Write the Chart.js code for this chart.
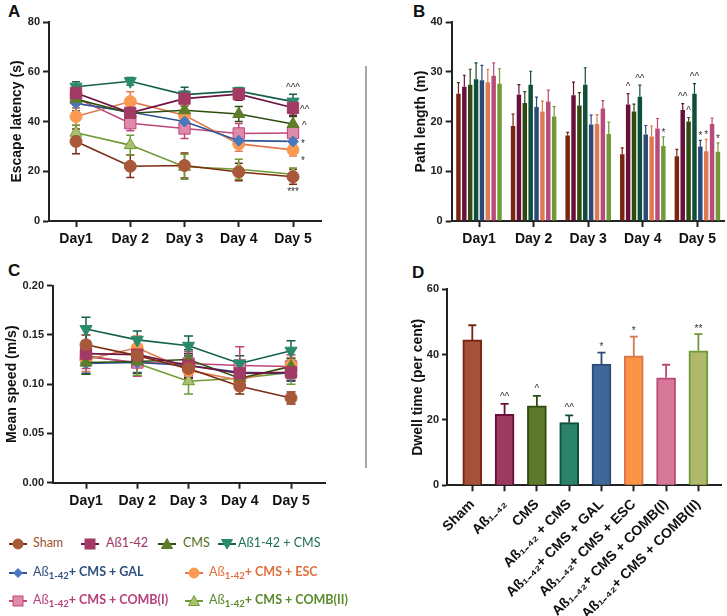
<!DOCTYPE html>
<html>
<head>
<meta charset="utf-8">
<script src="https://cdn.jsdelivr.net/npm/chart.js@4.4.1/dist/chart.umd.min.js"></script>
<style>
body { margin: 0; background: #fff; width: 727px; height: 616px; position: relative; overflow: hidden; font-family: 'Liberation Sans', Arial, sans-serif; }
canvas { position: absolute; }
.lbl { position: absolute; font: bold 17px 'Liberation Sans', Arial, sans-serif; color: #111; }
.sep { position: absolute; left: 365px; top: 66px; width: 2px; height: 402px; background: #a6a6a6; }
.leg { position: absolute; font: 12.5px Lato, 'Open Sans', sans-serif; white-space: nowrap; line-height: 16px; }
.leg b { font-weight: bold; }
.leg sub { font-size: 9.5px; font-weight: bold; vertical-align: -3px; line-height: 0; }
.mk { position: absolute; }
</style>
</head>
<body>
<div class="lbl" style="left:8px;top:2px">A</div>
<div class="lbl" style="left:413px;top:2px">B</div>
<div class="lbl" style="left:8px;top:261px">C</div>
<div class="lbl" style="left:412px;top:263px">D</div>
<div class="sep"></div>
<canvas id="latency" width="360" height="255" style="left:0;top:0"></canvas>
<canvas id="path" width="367" height="255" style="left:360px;top:0"></canvas>
<canvas id="speed" width="360" height="270" style="left:0;top:250px"></canvas>
<canvas id="dwell" width="367" height="366" style="left:360px;top:250px"></canvas>
<div id="legend"></div>
<script>
// groups: Sham, Aß1-42, CMS, Aß1-42+CMS, +GAL, +ESC, +COMB(I), +COMB(II)
const dayLabels = ['Day1', 'Day 2', 'Day 3', 'Day 4', 'Day 5'];
const groupNames = ['Sham', 'Aß1-42', 'CMS', 'Aß1-42 + CMS', 'Aß1-42+ CMS + GAL', 'Aß1-42+ CMS + ESC', 'Aß1-42+ CMS + COMB(I)', 'Aß1-42+ CMS + COMB(II)'];
const dwellLabels = ['Sham', 'Aß₁₋₄₂', 'CMS', 'Aß₁₋₄₂ + CMS', 'Aß₁₋₄₂+ CMS + GAL', 'Aß₁₋₄₂+ CMS + ESC', 'Aß₁₋₄₂+ CMS + COMB(I)', 'Aß₁₋₄₂+ CMS + COMB(II)'];

// A: escape latency (s)
const latencyMeans = [
    [32, 22, 22.3, 19.7, 17.8],
    [51.5, 43.5, 49.2, 51, 45.5],
    [49, 43.3, 44.5, 43, 39],
    [54, 56.2, 50.8, 52.2, 48],
    [47.3, 43.8, 40, 32.3, 32],
    [42, 48, 42.5, 31, 28.6],
    [49.5, 39.3, 37.2, 35.2, 35.4],
    [35.5, 30.5, 21.8, 20.8, 18.8]
];
const latencyErrors = [
    [5, 4.5, 5, 3.5, 3],
    [3, 4, 3, 2.5, 3],
    [3.5, 4, 3, 3, 3],
    [2, 1.5, 3, 1.5, 3],
    [3, 3, 3, 3, 1.5],
    [3.5, 4, 4, 3, 2.5],
    [3, 3, 4, 4, 3],
    [3, 4, 5, 4, 2.5]
];

// B: path length (m)
const pathMeans = [
    [25.6, 19.1, 17.2, 13.4, 13],
    [27, 25.4, 25.3, 23.4, 22.3],
    [27.4, 23.7, 23.2, 22, 20],
    [28.5, 27.4, 27.4, 25, 25.6],
    [28.3, 22.9, 19.4, 17.4, 15],
    [27.9, 22, 19.5, 17, 14],
    [29.2, 24, 22.6, 18.6, 19.5],
    [27.6, 21, 17.5, 15.1, 13.9]
];
const pathErrors = [
    [2.2, 2.4, 0.6, 1.3, 1.4],
    [2.3, 2, 2.6, 2.2, 1.3],
    [3.1, 2.3, 2.6, 1.5, 0.8],
    [3.3, 2.7, 3.4, 2.3, 2],
    [3, 2, 1.9, 1.8, 1.2],
    [2.6, 2.1, 1.9, 2.1, 2.4],
    [2.6, 2.3, 1.6, 2, 1.2],
    [3, 2, 2.4, 1.8, 1.8]
];

// C: mean speed (m/s)
const speedMeans = [
    [0.140, 0.129, 0.116, 0.098, 0.086],
    [0.131, 0.130, 0.119, 0.111, 0.112],
    [0.122, 0.123, 0.125, 0.106, 0.118],
    [0.156, 0.145, 0.139, 0.121, 0.134],
    [0.121, 0.122, 0.119, 0.112, 0.111],
    [0.125, 0.137, 0.114, 0.104, 0.119],
    [0.128, 0.122, 0.121, 0.119, 0.118],
    [0.129, 0.121, 0.103, 0.106, 0.112]
];
const speedErrors = [
    [0.010, 0.010, 0.010, 0.008, 0.006],
    [0.012, 0.010, 0.012, 0.008, 0.008],
    [0.012, 0.012, 0.010, 0.010, 0.008],
    [0.012, 0.009, 0.010, 0.008, 0.010],
    [0.010, 0.010, 0.010, 0.008, 0.008],
    [0.012, 0.012, 0.010, 0.008, 0.008],
    [0.012, 0.014, 0.012, 0.019, 0.012],
    [0.010, 0.012, 0.013, 0.010, 0.012]
];

// D: dwell time (per cent)
const dwellMeans = [44.5, 21.7, 24.3, 19.2, 37.1, 39.6, 32.9, 41.2];
const dwellErrors = [4.5, 3.2, 3.1, 2.2, 3.5, 5.9, 4, 5.1];

// styles
const lineColors = ['#7b2d12', '#6e1442', '#2e4f12', '#15604a', '#2e5590', '#e07a4f', '#c0467a', '#6f9a35'];
const fillColors = ['#a9583a', '#a23a64', '#5e7d2b', '#2a8a6c', '#4a78c0', '#f99a50', '#e08aaa', '#a9c070'];
const barColors = ['#7a2510', '#6a0f3b', '#2e4a0f', '#0e4e3b', '#2b4a78', '#dd7a52', '#b84b7a', '#6f9a36'];
const dwellFill = ['#a5513a', '#9e3a5f', '#5d7a2a', '#2a8268', '#40679a', '#fb9444', '#d87898', '#b0b96a'];
const dwellEdge = ['#7a2410', '#6b0f3a', '#2f4d0f', '#0f4f3a', '#2f4a75', '#d9774f', '#b84a78', '#6f9a35'];
const legendText = ['#a0522d', '#9b3763', '#4f6f22', '#1f6e58', '#2f4f7f', '#e0703c', '#b8407a', '#5b8a2b'];
const pointStyles = ['circle', 'rect', 'triangle', 'triangle', 'rectRot', 'circle', 'rect', 'triangle'];
const pointRotations = [0, 0, 0, 180, 0, 0, 0, 0];
const pointRadii = [6, 8, 7, 7, 5.5, 6, 8, 7];

const FONT = "'Liberation Sans', Arial, sans-serif";

const errorBars = {
    id: 'errorBars',
    beforeDatasetsDraw(chart, args, opts) { if (!opts.after) this.draw(chart, opts); },
    afterDatasetsDraw(chart, args, opts) { if (opts.after) this.draw(chart, opts); },
    draw(chart, opts) {
        const ctx = chart.ctx;
        const yScale = chart.scales.y;
        chart.data.datasets.forEach((ds, di) => {
            if (!ds.errors) return;
            const meta = chart.getDatasetMeta(di);
            ctx.save();
            ctx.lineWidth = opts.width;
            meta.data.forEach((el, i) => {
                const raw = ds.data[i];
                const v = typeof raw === 'object' ? raw.y : raw;
                const e = ds.errors[i];
                const col = Array.isArray(ds.errorColor) ? ds.errorColor[i] : (ds.errorColor || ds.borderColor);
                ctx.strokeStyle = col;
                const yTop = yScale.getPixelForValue(v + e);
                const yMid = yScale.getPixelForValue(v);
                const yBot = opts.upOnly ? yMid : yScale.getPixelForValue(v - e);
                ctx.beginPath();
                ctx.moveTo(el.x, yTop); ctx.lineTo(el.x, yBot);
                ctx.moveTo(el.x - opts.cap, yTop); ctx.lineTo(el.x + opts.cap, yTop);
                if (!opts.upOnly) { ctx.moveTo(el.x - opts.cap, yBot); ctx.lineTo(el.x + opts.cap, yBot); }
                ctx.stroke();
            });
            ctx.restore();
        });
    }
};

const notes = {
    id: 'notes',
    afterDatasetsDraw(chart, args, opts) {
        const ctx = chart.ctx;
        const yScale = chart.scales.y;
        ctx.save();
        ctx.font = '10px ' + FONT;
        ctx.fillStyle = '#333';
        ctx.textBaseline = 'middle';
        (opts.items || []).forEach(n => {
            const ds = chart.data.datasets[n.ds];
            const el = chart.getDatasetMeta(n.ds).data[n.i];
            const raw = ds.data[n.i];
            const v = typeof raw === 'object' ? raw.y : raw;
            const e = ds.errors[n.i];
            const base = n.at === 'top' ? v + e : (n.at === 'bottom' ? v - e : v);
            ctx.textAlign = n.align || 'center';
            ctx.fillText(n.text, el.x + (n.dx || 0), yScale.getPixelForValue(base) + (n.dy || 0));
        });
        ctx.restore();
    }
};

function yAxis(min, max, step, title, titleOffset, width, fmt) {
    return {
        min: min, max: max,
        ticks: { stepSize: step, font: { family: FONT, size: 11, weight: 'bold' }, color: '#222', padding: 3, callback: fmt },
        grid: { drawOnChartArea: false, drawTicks: true, tickLength: 6, tickColor: '#222', tickWidth: 2 },
        border: { display: true, color: '#222', width: 2 },
        title: { display: true, text: title, font: { family: FONT, size: 14, weight: 'bold' }, color: '#111', padding: { top: titleOffset, bottom: 0 } },
        afterFit(s) { s.width = width; }
    };
}

function dayAxis(min, max, height) {
    return {
        type: 'linear', min: min, max: max, offset: false,
        ticks: { stepSize: 1, includeBounds: false, autoSkip: false, maxRotation: 0, font: { family: FONT, size: 14, weight: 'bold' }, color: '#111', padding: 4, callback: v => dayLabels[Math.round(v) - 1] },
        grid: { drawOnChartArea: false, offset: false, tickLength: 6, tickColor: '#222', tickWidth: 2 },
        border: { color: '#222', width: 2 },
        afterFit(s) { s.height = height; }
    };
}

function lineSets(means, errs) {
    return means.map((m, g) => ({
        label: groupNames[g],
        data: m.map((v, i) => ({ x: i + 1, y: v })),
        errors: errs[g],
        borderColor: lineColors[g],
        borderWidth: 1.6,
        backgroundColor: fillColors[g],
        pointStyle: pointStyles[g],
        pointRotation: pointRotations[g],
        pointRadius: pointRadii[g],
        pointBackgroundColor: fillColors[g],
        pointBorderColor: (g === 6 || g === 7) ? lineColors[g] : fillColors[g],
        pointBorderWidth: 1,
        tension: 0,
        clip: false
    }));
}

function baseOptions(padding) {
    return {
        responsive: false, animation: false, events: [],
        layout: { padding: padding },
        plugins: { legend: { display: false }, tooltip: { enabled: false } }
    };
}

// A
const latencyOpts = baseOptions({ top: 22, right: 39, left: 0, bottom: 0 });
latencyOpts.scales = { x: dayAxis(0.502, 5.516, 34), y: yAxis(0, 80, 20, 'Escape latency (s)', 9, 49, v => v) };
latencyOpts.plugins.errorBars = { cap: 4, width: 1.5 };
latencyOpts.plugins.notes = { items: [
    { ds: 3, i: 4, text: '^^^', at: 'top', dy: -6 },
    { ds: 1, i: 4, text: '^^', at: 'mid', align: 'left', dx: 7, dy: 2 },
    { ds: 2, i: 4, text: '^', at: 'mid', align: 'left', dx: 9, dy: 2 },
    { ds: 4, i: 4, text: '*', at: 'mid', align: 'left', dx: 8, dy: 3 },
    { ds: 5, i: 4, text: '*', at: 'mid', align: 'left', dx: 8, dy: 11 },
    { ds: 0, i: 4, text: '***', at: 'bottom', dy: 8 }
] };
new Chart(document.getElementById('latency'), {
    type: 'line',
    data: { datasets: lineSets(latencyMeans, latencyErrors) },
    options: latencyOpts,
    plugins: [errorBars, notes]
});

// C
const speedOpts = baseOptions({ top: 35.7, right: 35, left: 0, bottom: 0 });
speedOpts.scales = { x: dayAxis(0.356, 5.663, 37.3), y: yAxis(0, 0.2, 0.05, 'Mean speed (m/s)', 4, 53, v => v.toFixed(2)) };
speedOpts.plugins.errorBars = { cap: 4.5, width: 1.5 };
new Chart(document.getElementById('speed'), {
    type: 'line',
    data: { datasets: lineSets(speedMeans, speedErrors) },
    options: speedOpts,
    plugins: [errorBars]
});

// B
const pathOpts = baseOptions({ top: 22, right: 2.3, left: 0, bottom: 0 });
pathOpts.scales = {
    x: {
        type: 'category', offset: true,
        ticks: { font: { family: FONT, size: 14, weight: 'bold' }, color: '#111', padding: 4, maxRotation: 0, autoSkip: false },
        grid: { drawOnChartArea: false, offset: false, tickLength: 6, tickColor: '#222', tickWidth: 2 },
        border: { color: '#222', width: 2 },
        afterFit(s) { s.height = 34; }
    },
    y: yAxis(0, 40, 10, 'Path length (m)', 53, 91.7, v => v)
};
pathOpts.plugins.errorBars = { cap: 1.5, width: 1.2, upOnly: true, after: true };
pathOpts.plugins.notes = { items: [
    { ds: 1, i: 3, text: '^', at: 'top', dy: -6 },
    { ds: 3, i: 3, text: '^^', at: 'top', dy: -6 },
    { ds: 7, i: 3, text: '*', at: 'top', dy: -4 },
    { ds: 1, i: 4, text: '^^', at: 'top', dy: -6 },
    { ds: 2, i: 4, text: '^', at: 'top', dy: -6 },
    { ds: 3, i: 4, text: '^^', at: 'top', dy: -6 },
    { ds: 4, i: 4, text: '*', at: 'top', dy: -4 },
    { ds: 5, i: 4, text: '*', at: 'top', dy: -4 },
    { ds: 7, i: 4, text: '*', at: 'top', dy: -4 }
] };
new Chart(document.getElementById('path'), {
    type: 'bar',
    data: {
        labels: dayLabels,
        datasets: pathMeans.map((m, g) => ({
            label: groupNames[g], data: m, errors: pathErrors[g],
            backgroundColor: barColors[g], borderColor: barColors[g], borderWidth: 0,
            categoryPercentage: 0.86, barPercentage: 0.76
        }))
    },
    options: pathOpts,
    plugins: [errorBars, notes]
});

// D
const dwellOpts = baseOptions({ top: 39.3, right: 5.3, left: 0, bottom: 0 });
dwellOpts.scales = {
    x: {
        type: 'linear', min: 0.217, max: 8.722, offset: false,
        ticks: { stepSize: 1, includeBounds: false, autoSkip: false, minRotation: 45, maxRotation: 45, font: { family: FONT, size: 14, weight: 'bold' }, color: '#111', padding: 5, callback: v => dwellLabels[Math.round(v) - 1] },
        grid: { drawOnChartArea: false, offset: false, tickLength: 6, tickColor: '#222', tickWidth: 2 },
        border: { color: '#222', width: 2 },
        afterFit(s) { s.height = 130.7; }
    },
    y: yAxis(0, 60, 20, 'Dwell time (per cent)', 50, 87, v => v)
};
dwellOpts.scales.y.grid.tickLength = 5;
dwellOpts.plugins.errorBars = { cap: 4, width: 1.8, upOnly: true, after: true };
dwellOpts.plugins.notes = { items: [
    { ds: 0, i: 1, text: '^^', at: 'top', dy: -7 },
    { ds: 0, i: 2, text: '^', at: 'top', dy: -7 },
    { ds: 0, i: 3, text: '^^', at: 'top', dy: -7 },
    { ds: 0, i: 4, text: '*', at: 'top', dy: -5 },
    { ds: 0, i: 5, text: '*', at: 'top', dy: -5 },
    { ds: 0, i: 7, text: '**', at: 'top', dy: -5 }
] };
new Chart(document.getElementById('dwell'), {
    type: 'bar',
    data: {
        datasets: [{
            label: 'Dwell time',
            data: dwellMeans.map((v, i) => ({ x: i + 1, y: v })),
            errors: dwellErrors,
            errorColor: dwellEdge,
            backgroundColor: dwellFill, borderColor: dwellEdge, borderWidth: 2,
            barThickness: 19
        }]
    },
    options: dwellOpts,
    plugins: [errorBars, notes]
});

// legend (html so text stays text)
const legendPos = [[17.5, 33, 544], [89.5, 106, 544], [167, 183, 544], [226.5, 238, 544],
                   [17.5, 33, 573], [193.5, 209, 573], [17.5, 33, 601], [193.5, 209, 601]];
const legendSuffix = ['', '', '', '', 'CMS + GAL', 'CMS + ESC', 'CMS + COMB(I)', 'CMS + COMB(II)'];

function markerSvg(g) {
    const c = fillColors[g], l = lineColors[g];
    const edge = (g === 6 || g === 7) ? l : c;
    let shape = '';
    if (pointStyles[g] === 'circle') shape = `<circle cx="9" cy="7" r="5" fill="${c}" stroke="${edge}"/>`;
    else if (pointStyles[g] === 'rect') shape = `<rect x="4" y="2" width="10" height="10" fill="${c}" stroke="${edge}"/>`;
    else if (pointStyles[g] === 'rectRot') shape = `<polygon points="9,2.5 13.5,7 9,11.5 4.5,7" fill="${c}" stroke="${edge}"/>`;
    else if (pointRotations[g] === 180) shape = `<polygon points="3.5,2.5 14.5,2.5 9,12" fill="${c}" stroke="${edge}"/>`;
    else shape = `<polygon points="9,1.5 14.5,11.5 3.5,11.5" fill="${c}" stroke="${edge}"/>`;
    return `<svg width="18" height="14"><line x1="0" y1="7" x2="18" y2="7" stroke="${l}" stroke-width="2"/>${shape}</svg>`;
}

const legend = document.getElementById('legend');
legendPos.forEach((p, g) => {
    const mk = document.createElement('div');
    mk.className = 'mk';
    mk.style.left = (p[0] - 9) + 'px';
    mk.style.top = (p[2] - 7) + 'px';
    mk.innerHTML = markerSvg(g);
    legend.appendChild(mk);
    const t = document.createElement('div');
    t.className = 'leg';
    t.style.left = p[1] + 'px';
    t.style.top = (p[2] - 9) + 'px';
    t.style.color = legendText[g];
    if (g < 4) t.textContent = groupNames[g];
    else t.innerHTML = 'Aß<sub>1-42</sub><b>+ ' + legendSuffix[g] + '</b>';
    legend.appendChild(t);
});
</script>
</body>
</html>
